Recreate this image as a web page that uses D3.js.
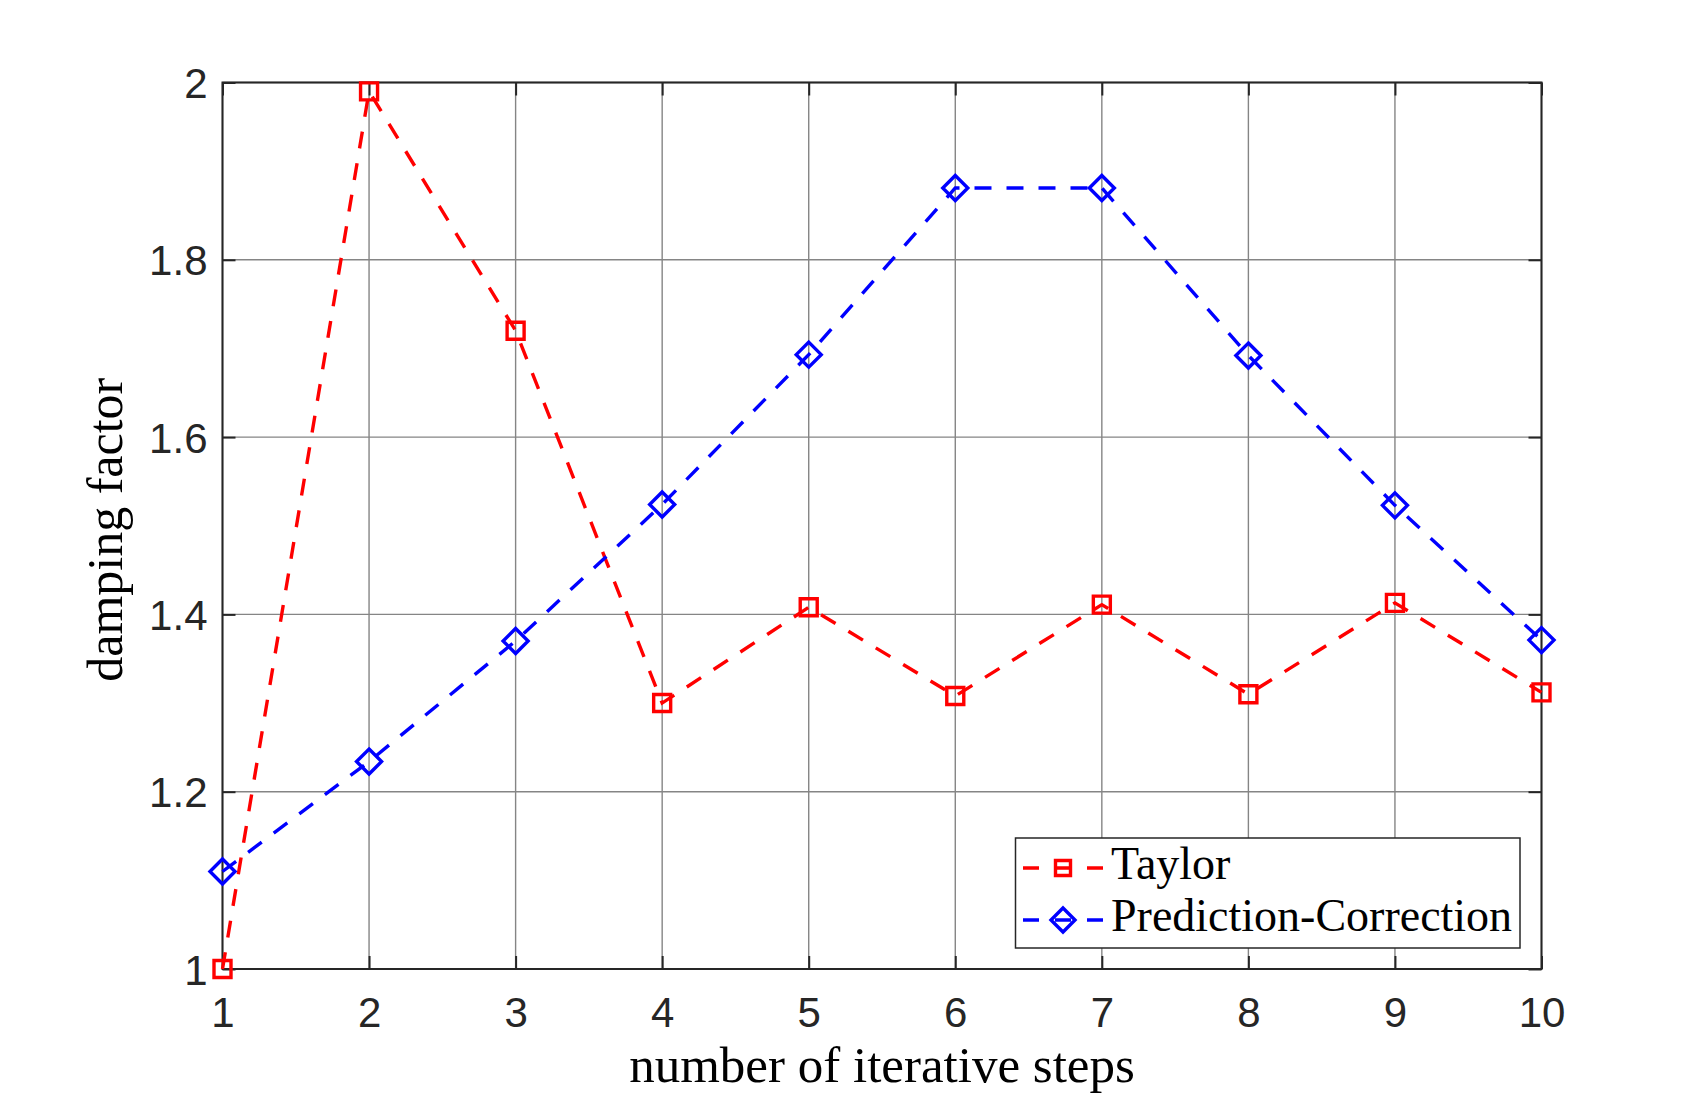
<html>
  <head>
    <meta charset="utf-8">
    <title>damping factor</title>
    <style>
      body { margin: 0; background: #fff; }
    </style>
  </head>
<body>
  <script src="https://cdn.jsdelivr.net/npm/d3@7"></script>
  <script>
    // data
    var steps = [1, 2, 3, 4, 5, 6, 7, 8, 9, 10];
    var taylor = [1.0, 1.99, 1.72, 1.30, 1.408, 1.308, 1.411, 1.310, 1.413, 1.312];
    var predCorr = [1.11, 1.234, 1.37, 1.524, 1.693, 1.881, 1.881, 1.692, 1.523, 1.371];
    var yTicks = [1, 1.2, 1.4, 1.6, 1.8, 2];
    var seriesNames = ["Taylor", "Prediction-Correction"];

    var width = 1704, height = 1097;
    // plot area (window.top is reserved, so names are prefixed)
    var pLeft = 222.5, pRight = 1541.5, pTop = 82.5, pBottom = 969;

    var svg = d3.select("body")
                .append("svg")
                .attr("width", width)
                .attr("height", height);

    var x = d3.scaleLinear().domain([1, 10]).range([pLeft, pRight]);
    var y = d3.scaleLinear().domain([1, 2]).range([pBottom, pTop]);

    var axisColor = "#262626";
    var tickFont = "'Liberation Sans', Arial, Helvetica, sans-serif";
    var labelFont = "'Liberation Serif', 'Times New Roman', serif";

    // grid
    var grid = svg.append("g");
    grid.selectAll("line.gx")
        .data(steps)
        .enter()
        .append("line")
        .attr("x1", function(d){ return x(d); })
        .attr("x2", function(d){ return x(d); })
        .attr("y1", pTop)
        .attr("y2", pBottom)
        .attr("stroke", "#858585")
        .attr("stroke-width", 1.4);
    grid.selectAll("line.gy")
        .data(yTicks)
        .enter()
        .append("line")
        .attr("x1", pLeft)
        .attr("x2", pRight)
        .attr("y1", function(d){ return y(d); })
        .attr("y2", function(d){ return y(d); })
        .attr("stroke", "#858585")
        .attr("stroke-width", 1.4);

    // axes with inward ticks, mirrored on top and right
    function styleAxis(g){
      g.select(".domain").remove();
      g.selectAll(".tick line").attr("stroke", axisColor).attr("stroke-width", 2);
      g.selectAll(".tick text")
       .attr("fill", axisColor)
       .attr("font-family", tickFont)
       .attr("font-size", 42);
    }

    var xAxis = svg.append("g")
        .attr("transform", "translate(0," + pBottom + ")")
        .call(d3.axisBottom(x).tickValues(steps).tickSizeInner(-13).tickPadding(28).tickFormat(d3.format("d")));
    styleAxis(xAxis);

    var yAxis = svg.append("g")
        .attr("transform", "translate(" + pLeft + ",0)")
        .call(d3.axisLeft(y).tickValues(yTicks).tickSizeInner(-13).tickPadding(28).tickFormat(function(d){ return String(d); }));
    styleAxis(yAxis);
    yAxis.selectAll(".tick text").attr("dy", "0.36em").attr("x", -15);

    var xTop = svg.append("g")
        .attr("transform", "translate(0," + pTop + ")")
        .call(d3.axisTop(x).tickValues(steps).tickSizeInner(-13).tickFormat(""));
    styleAxis(xTop);
    var yRight = svg.append("g")
        .attr("transform", "translate(" + pRight + ",0)")
        .call(d3.axisRight(y).tickValues(yTicks).tickSizeInner(-13).tickFormat(""));
    styleAxis(yRight);

    // box
    svg.append("rect")
       .attr("x", pLeft)
       .attr("y", pTop)
       .attr("width", pRight - pLeft)
       .attr("height", pBottom - pTop)
       .attr("fill", "none")
       .attr("stroke", axisColor)
       .attr("stroke-width", 2);

    // axis labels
    svg.append("text")
       .attr("x", (pLeft + pRight) / 2)
       .attr("y", 1082)
       .attr("text-anchor", "middle")
       .attr("font-family", labelFont)
       .attr("font-size", 51)
       .attr("fill", "#000")
       .text("number of iterative steps");

    svg.append("text")
       .attr("transform", "translate(122," + ((pTop + pBottom) / 2 + 4) + ") rotate(-90)")
       .attr("text-anchor", "middle")
       .attr("font-family", labelFont)
       .attr("font-size", 50)
       .attr("fill", "#000")
       .text("damping factor");

    // series
    var line = d3.line()
                 .x(function(d, i){ return x(steps[i]); })
                 .y(function(d){ return y(d); });

    var dash = "17,15";
    var lw = 3.4;

    function squarePath(cx, cy, s){
      return "M" + (cx - s) + "," + (cy - s) + "h" + (2 * s) + "v" + (2 * s) + "h" + (-2 * s) + "Z";
    }
    function diamondPath(cx, cy, s){
      return "M" + cx + "," + (cy - s) + "L" + (cx + s) + "," + cy + "L" + cx + "," + (cy + s) + "L" + (cx - s) + "," + cy + "Z";
    }

    svg.append("path")
       .datum(taylor)
       .attr("d", line)
       .attr("fill", "none")
       .attr("stroke", "#ff0000")
       .attr("stroke-width", lw)
       .attr("stroke-dasharray", dash);
    svg.selectAll("path.sq")
       .data(taylor)
       .enter()
       .append("path")
       .attr("class", "sq")
       .attr("d", function(d, i){ return squarePath(x(steps[i]), y(d), 8.5); })
       .attr("fill", "none")
       .attr("stroke", "#ff0000")
       .attr("stroke-width", lw);

    svg.append("path")
       .datum(predCorr)
       .attr("d", line)
       .attr("fill", "none")
       .attr("stroke", "#0000ff")
       .attr("stroke-width", lw)
       .attr("stroke-dasharray", dash);
    svg.selectAll("path.dm")
       .data(predCorr)
       .enter()
       .append("path")
       .attr("class", "dm")
       .attr("d", function(d, i){ return diamondPath(x(steps[i]), y(d), 12.5); })
       .attr("fill", "none")
       .attr("stroke", "#0000ff")
       .attr("stroke-width", lw);

    // legend
    var lg = svg.append("g");
    lg.append("rect")
      .attr("x", 1015.5)
      .attr("y", 838)
      .attr("width", 1520 - 1015.5)
      .attr("height", 948 - 838)
      .attr("fill", "#fff")
      .attr("stroke", axisColor)
      .attr("stroke-width", 1.5);

    var rows = [
      {name: seriesNames[0], color: "#ff0000", cy: 868, marker: "sq"},
      {name: seriesNames[1], color: "#0000ff", cy: 920, marker: "dm"}
    ];
    rows.forEach(function(r){
      lg.append("line")
        .attr("x1", 1023)
        .attr("x2", 1103)
        .attr("y1", r.cy)
        .attr("y2", r.cy)
        .attr("stroke", r.color)
        .attr("stroke-width", lw)
        .attr("stroke-dasharray", "16,16");
      lg.append("path")
        .attr("d", r.marker == "sq" ? squarePath(1063, r.cy, 7.5) : diamondPath(1063, r.cy, 12))
        .attr("fill", "none")
        .attr("stroke", r.color)
        .attr("stroke-width", lw);
      lg.append("text")
        .attr("x", 1111)
        .attr("y", r.cy + 11)
        .attr("font-family", labelFont)
        .attr("font-size", 46)
        .attr("fill", "#000")
        .text(r.name);
    });
  </script>
</body>
</html>
